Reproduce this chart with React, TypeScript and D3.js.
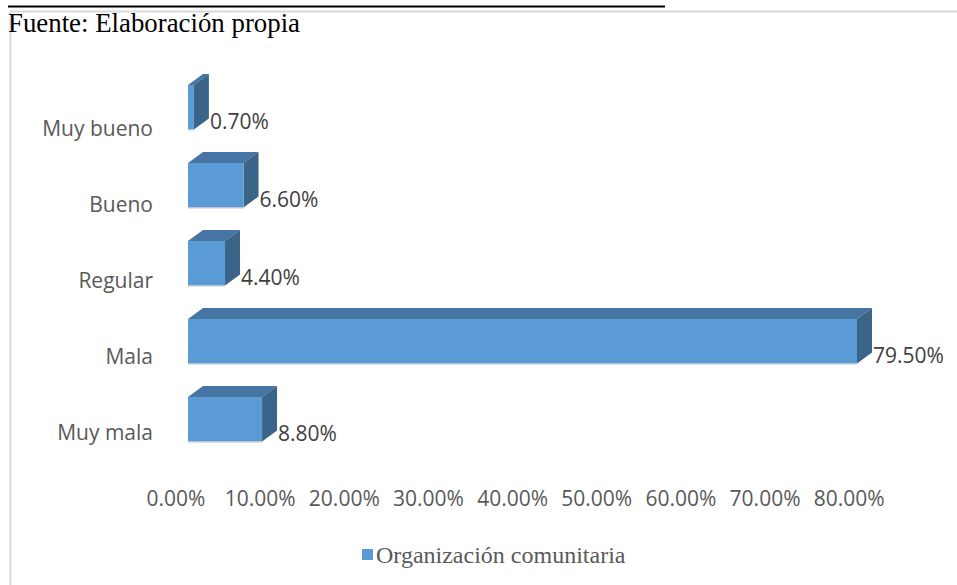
import React from 'react';
import * as d3 from 'd3';

// Values (percent)
const categories = ['Muy bueno', 'Bueno', 'Regular', 'Mala', 'Muy mala'];
const values = [0.7, 6.6, 4.4, 79.5, 8.8];
const tickValues = [0, 10, 20, 30, 40, 50, 60, 70, 80];
const seriesName = 'Organización comunitaria';
const sourceNote = 'Fuente: Elaboración propia';

const W = 957;
const H = 585;

// 3D depth offsets
const depthX = 15;
const depthY = 11;

const colors = {
  front: '#5b9bd5',
  top: '#4675a3',
  side: '#3b6489',
  label: '#595959',
  value: '#404040',
};

const fmt = (v: number) => `${v.toFixed(2)}%`;

export default function App() {
  const x = d3.scaleLinear().domain([0, 80]).range([188, 861.2]);
  const y = d3
    .scaleBand<string>()
    .domain(categories)
    .range([85, 441.5])
    .paddingInner(0.43)
    .paddingOuter(0);
  // category labels sit slightly lower (3D projection of the axis)
  const yLabel = d3.scalePoint<string>().domain(categories).range([129, 433]);

  const font = '"Open Sans", "DejaVu Sans", sans-serif';
  const serif = '"Liberation Serif", "Times New Roman", serif';

  return (
    <svg
      width={W}
      height={H}
      style={{ position: 'absolute', left: 0, top: 0, background: '#fff' }}
    >
      {/* top rule and chart frame */}
      <line x1={8} x2={665} y1={6.5} y2={6.5} stroke="#000" strokeWidth={2} />
      <line x1={10} x2={W} y1={11.5} y2={11.5} stroke="#d9d9d9" strokeWidth={2} />
      <line x1={10.5} x2={10.5} y1={11} y2={H} stroke="#d9d9d9" strokeWidth={2} />

      <text x={8} y={32} fontFamily={serif} fontSize={27} fill="#000" textLength={292} lengthAdjust="spacingAndGlyphs">
        {sourceNote}
      </text>

      {/* bars */}
      {categories.map((c, i) => {
        const x0 = x(0);
        const x1 = x(values[i]);
        const y0 = y(c)!;
        const y1 = y0 + y.bandwidth();
        const topPts = [
          [x0, y0],
          [x0 + depthX, y0 - depthY],
          [x1 + depthX, y0 - depthY],
          [x1, y0],
        ];
        const sidePts = [
          [x1, y0],
          [x1 + depthX, y0 - depthY],
          [x1 + depthX, y1 - depthY],
          [x1, y1],
        ];
        return (
          <g key={c}>
            <polygon points={topPts.map((p) => p.join(',')).join(' ')} fill={colors.top} />
            <polygon points={sidePts.map((p) => p.join(',')).join(' ')} fill={colors.side} />
            <rect x={x0} y={y0} width={x1 - x0} height={y1 - y0} fill={colors.front} />
            <line x1={x0} x2={x1} y1={y1 + 0.5} y2={y1 + 0.5} stroke="#bfbfbf" strokeWidth={1} />
            <text
              x={x1 + depthX + 1}
              y={y1 - 8}
              dy="0.35em"
              fontFamily={font}
              fontSize={21}
              fill={colors.value}
            >
              {fmt(values[i])}
            </text>
          </g>
        );
      })}

      {/* category labels */}
      {categories.map((c) => (
        <text
          key={c}
          x={153}
          y={yLabel(c)}
          dy="0.35em"
          textAnchor="end"
          fontFamily={font}
          fontSize={21}
          fill={colors.label}
        >
          {c}
        </text>
      ))}

      {/* value axis labels */}
      {tickValues.map((t) => (
        <text
          key={t}
          x={x(t) - 12}
          y={499}
          dy="0.35em"
          textAnchor="middle"
          fontFamily={font}
          fontSize={21}
          fill={colors.label}
        >
          {fmt(t)}
        </text>
      ))}

      {/* legend */}
      <rect x={362} y={549} width={11} height={11} fill={colors.front} />
      <text x={376} y={555} dy="0.35em" fontFamily={serif} fontSize={24} fill={colors.label}>
        {seriesName}
      </text>
    </svg>
  );
}
